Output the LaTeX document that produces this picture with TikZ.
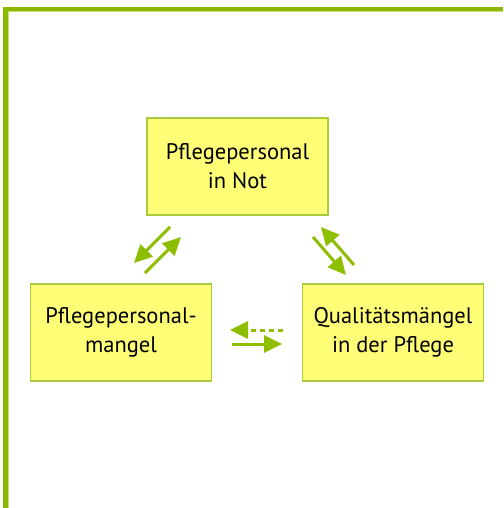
\documentclass[tikz,border=0pt]{standalone}
\usepackage{fontspec}
\setmainfont{PT Sans}
\usetikzlibrary{arrows.meta}
\definecolor{framegreen}{HTML}{8CB800}
\definecolor{framelight}{HTML}{C8E07A}
\definecolor{arrowgreen}{HTML}{8DBE00}
\definecolor{boxfill}{HTML}{FFFF77}
\definecolor{boxline}{HTML}{A9CC3C}
\tikzset{
  x=1pt, y=-1pt,
  causebox/.style={draw=boxline, line width=1.2pt, fill=boxfill, inner sep=0pt,
    minimum width=181pt, minimum height=97pt, align=center,
    font=\fontsize{22.5}{29}\selectfont},
  flow/.style={draw=arrowgreen, line width=3pt,
    -{Triangle[length=18pt,width=17pt]}},
  weakflow/.style={flow, dash pattern=on 5pt off 4pt},
}
\begin{document}
\begin{tikzpicture}
\useasboundingbox (0,0) rectangle (503,508);
% frame
\fill[framegreen] (3,7) rectangle (503,11.5);
\fill[framegreen] (3,7) rectangle (7.5,508);
\fill[framelight] (7.5,11.5) rectangle (503,12.3);
\fill[framelight] (7.5,11.5) rectangle (8.3,508);
% boxes
\node[causebox] (top) at (237.5,166.5) {Pflegepersonal\\in Not};
\node[causebox] (left) at (121,332.5) {Pflegepersonal-\\mangel};
\node[causebox] (right) at (393,332.5) {Qualitätsmängel\\in der Pflege};
% arrow endpoints
\coordinate (a1s) at (170,227); \coordinate (a1e) at (134,263);
\coordinate (a2s) at (145,273); \coordinate (a2e) at (181,237);
\coordinate (b1s) at (354,265); \coordinate (b1e) at (321,227);
\coordinate (b2s) at (313,237); \coordinate (b2e) at (346,275);
\coordinate (c1s) at (283,330); \coordinate (c1e) at (230,330);
\coordinate (c2s) at (232,344); \coordinate (c2e) at (282,344);
\draw[flow] (a1s) -- (a1e);
\draw[flow] (a2s) -- (a2e);
\draw[flow] (b1s) -- (b1e);
\draw[flow] (b2s) -- (b2e);
\draw[weakflow] (c1s) -- (c1e);
\draw[flow] (c2s) -- (c2e);
\end{tikzpicture}
\end{document}
